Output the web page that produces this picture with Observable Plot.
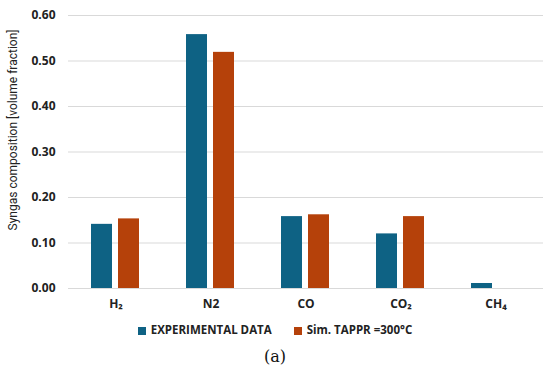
<!DOCTYPE html>
<html>
<head>
<meta charset="utf-8">
<script src="https://cdn.jsdelivr.net/npm/d3@7"></script>
<script src="https://cdn.jsdelivr.net/npm/@observablehq/plot@0.6"></script>
<style>
  body { margin: 0; background: #fff; font-family: "Open Sans", "Liberation Sans", sans-serif; }
  #wrap { width: 550px; }
  .legend { display: flex; justify-content: center; align-items: center; gap: 22px; font-size: 11.5px; font-weight: bold; color: #222; margin-top: 10px; }
  .legend span.sw { display: inline-block; width: 8px; height: 8px; margin-right: 5px; vertical-align: middle; }
  .cap { text-align: center; font-family: "DejaVu Serif", "Liberation Serif", serif; font-size: 16px; margin-top: 10px; color: #111; }
</style>
</head>
<body>
<div id="wrap"></div>
<script>
const categories = ["H2", "N2", "CO", "CO2", "CH4"];
const categoryLabels = ["H₂", "N2", "CO", "CO₂", "CH₄"];
const seriesNames = ["EXPERIMENTAL DATA", "Sim. TAPPR =300°C"];
const experimental = [0.141, 0.558, 0.158, 0.120, 0.011];
const simulated = [0.153, 0.519, 0.162, 0.158, 0.0];
const yTicks = [0, 0.1, 0.2, 0.3, 0.4, 0.5, 0.6];
const yLabel = "Syngas composition [volume fraction]";
const colors = ["#0E6284", "#B5410A"];

const data = [];
categories.forEach((c, i) => {
  data.push({cat: c, series: seriesNames[0], value: experimental[i]});
  data.push({cat: c, series: seriesNames[1], value: simulated[i]});
});
const labelOf = Object.fromEntries(categories.map((c, i) => [c, categoryLabels[i]]));

const chart = Plot.plot({
  width: 550,
  height: 312,
  marginLeft: 67,
  marginRight: 6,
  marginTop: 15,
  marginBottom: 24,
  style: { fontFamily: "'Open Sans', 'Liberation Sans', sans-serif", fontSize: "11.5px", color: "#222" },
  fx: { domain: categories, padding: 0, label: null, tickFormat: d => labelOf[d], tickSize: 0, tickPadding: 11 },
  x: { domain: seriesNames, paddingInner: 0.22, paddingOuter: 0.84, axis: null },
  y: { domain: [0, 0.6], ticks: yTicks, tickFormat: d3.format(".2f"), label: null, tickSize: 0, tickPadding: 13 },
  color: { domain: seriesNames, range: colors },
  marks: [
    Plot.gridY(yTicks, { stroke: "#d9d9d9", strokeOpacity: 1, strokeWidth: 1 }),
    Plot.barY(data, { fx: "cat", x: "series", y: "value", fill: "series" }),
    Plot.ruleY([0], { stroke: "#d9d9d9", strokeWidth: 1 }),
    Plot.text([yLabel], { text: d => d, frameAnchor: "left", textAnchor: "middle", dx: -55, dy: -22, rotate: -90, fontSize: 12, fontFamily: "Roboto, sans-serif", fill: "#222", facet: "super" })
  ]
});
chart.querySelectorAll('[aria-label="y-axis tick label"], [aria-label="fx-axis tick label"]').forEach(g => { g.style.fontWeight = "bold"; g.style.fontSize = "12px"; });

const wrap = document.getElementById("wrap");
wrap.appendChild(chart);

const legend = document.createElement("div");
legend.className = "legend";
seriesNames.forEach((s, i) => {
  const item = document.createElement("div");
  item.innerHTML = `<span class="sw" style="background:${colors[i]}"></span>${s}`;
  legend.appendChild(item);
});
wrap.appendChild(legend);

const cap = document.createElement("div");
cap.className = "cap";
cap.textContent = "(a)";
wrap.appendChild(cap);
</script>
</body>
</html>
